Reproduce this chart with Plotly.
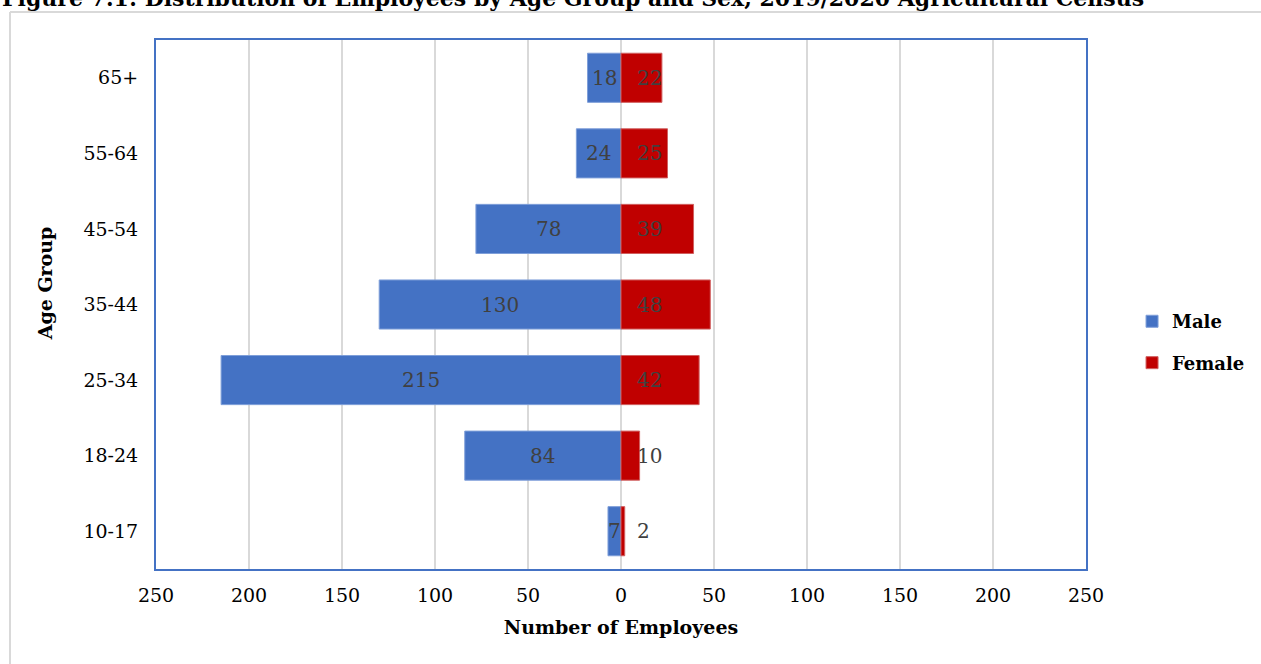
import plotly.graph_objects as go

age_groups = ["10-17", "18-24", "25-34", "35-44", "45-54", "55-64", "65+"]
male = [7, 84, 215, 130, 78, 24, 18]
female = [2, 10, 42, 48, 39, 25, 22]
tick_vals = [-250, -200, -150, -100, -50, 0, 50, 100, 150, 200, 250]
tick_text = ["250", "200", "150", "100", "50", "0", "50", "100", "150", "200", "250"]

BLUE = "#4472C4"
RED = "#C00000"
FONT = "DejaVu Serif"
LABEL = "#404040"

fig = go.Figure()
fig.add_trace(go.Bar(
    y=age_groups, x=[-v for v in male], orientation="h", name="<b>Male</b>",
    marker=dict(color=BLUE, line=dict(color="#7F9FD9", width=1)),
    width=0.65, hoverinfo="skip", legendgroup="m",
))
fig.add_trace(go.Bar(
    y=age_groups, x=female, orientation="h", name="<b>Female</b>",
    marker=dict(color=RED, line=dict(color="#D06060", width=1)),
    width=0.65, hoverinfo="skip", legendgroup="f",
))

annotations = []
for g, v in zip(age_groups, male):
    annotations.append(dict(x=-v / 2, y=g, xref="x", yref="y", text=str(v),
                            showarrow=False, xanchor="center", yanchor="middle",
                            font=dict(family=FONT, size=20, color=LABEL)))
for g, v in zip(age_groups, female):
    annotations.append(dict(x=0, y=g, xref="x", yref="y", text=str(v),
                            showarrow=False, xanchor="left", yanchor="middle",
                            xshift=14, font=dict(family=FONT, size=20, color=LABEL)))
annotations.append(dict(
    x=-0.1677, y=1, xref="paper", yref="paper", yshift=42,
    text="<b>Figure 7.1: Distribution of Employees by Age Group and Sex, 2019/2020 Agricultural Census</b>",
    showarrow=False, xanchor="left", yanchor="middle",
    font=dict(family=FONT, size=22, color="#000000")))
annotations.append(dict(
    x=-0.119, y=0.5406, xref="paper", yref="paper",
    text="<b>Age Group</b>", textangle=-90,
    showarrow=False, xanchor="center", yanchor="middle",
    font=dict(family=FONT, size=19, color="#000000")))

fig.update_layout(
    width=1261, height=664,
    margin=dict(l=156, r=175, t=40, b=95, autoexpand=False),
    paper_bgcolor="white", plot_bgcolor="white",
    barmode="overlay", bargap=0.35,
    font=dict(family=FONT, color="#000000"),
    annotations=annotations,
    legend=dict(x=1.0495, y=0.429, xanchor="left", yanchor="middle",
                font=dict(family=FONT, size=18, color="#000000"),
                itemwidth=30, tracegroupgap=15, traceorder="grouped"),
    showlegend=True,
    shapes=[
        dict(type="line", xref="paper", yref="paper", x0=-0.157, x1=1.2,
             y0=1.0529, y1=1.0529, line=dict(color="#D9D9D9", width=2)),
        dict(type="line", xref="paper", yref="paper", x0=-0.157, x1=-0.157,
             y0=1.0529, y1=-0.2, line=dict(color="#D9D9D9", width=2)),
    ],
)
fig.update_xaxes(
    range=[-250, 250], tickvals=tick_vals, ticktext=tick_text,
    showgrid=True, gridcolor="#D9D9D9", gridwidth=2,
    zeroline=True, zerolinecolor="#D9D9D9", zerolinewidth=2,
    showline=True, linecolor=BLUE, linewidth=2, mirror=True,
    ticks="", ticklabelstandoff=8, tickfont=dict(family=FONT, size=19, color="#000000"),
    title=dict(text="<b>Number of Employees</b>", standoff=16,
               font=dict(family=FONT, size=19, color="#000000")),
)
fig.update_yaxes(
    categoryorder="array", categoryarray=age_groups,
    showgrid=False, zeroline=False,
    showline=True, linecolor=BLUE, linewidth=2, mirror=True,
    ticks="", ticklabelstandoff=12, tickfont=dict(family=FONT, size=19, color="#000000"),
)
fig.data[0].legendrank = 1
fig.data[1].legendrank = 2

fig.write_html("out.html")
